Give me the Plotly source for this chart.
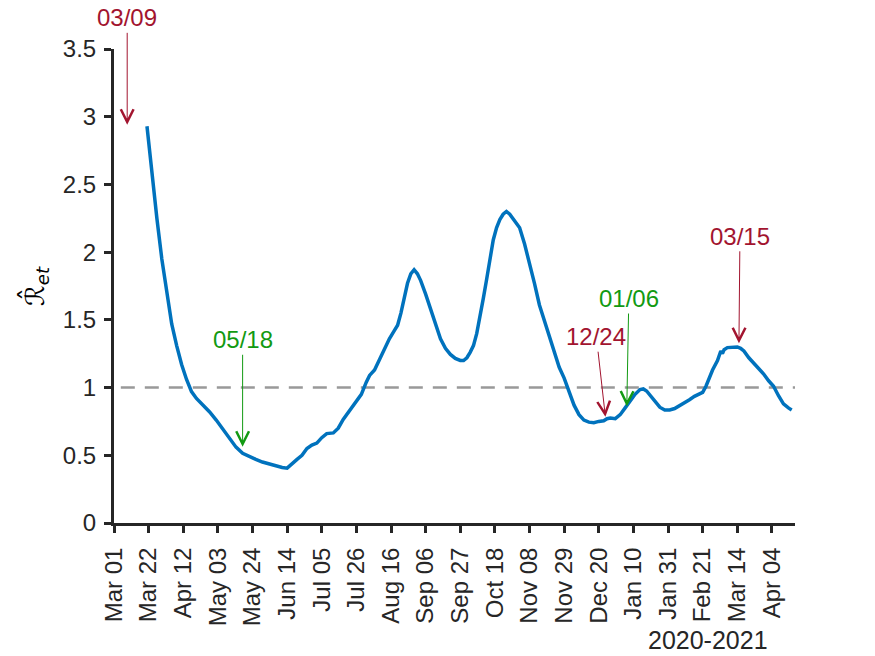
import plotly.graph_objects as go
import pandas as pd

# ---- data ----
start_date = "2020-03-01"
day_offsets = [20, 23, 26, 29, 32, 35, 38, 41, 44, 47, 50, 54, 58, 62, 66, 70, 74, 78, 82, 86,
               90, 94, 98, 102, 105, 108, 111, 114, 117, 120, 123, 126, 129, 133, 136, 139, 143,
               147, 150, 153, 155, 158, 161, 164, 167, 170, 172, 174, 176, 178, 180, 182, 184,
               186, 189, 192, 195, 198, 201, 204, 207, 210, 212, 214, 216, 218, 220, 222, 224,
               226, 228, 230, 232, 234, 236, 238, 240, 242, 244, 246, 249, 252, 255, 258, 261,
               264, 267, 270, 273, 276, 279, 282, 285, 288, 291, 294, 297, 299, 301, 304, 307,
               310, 313, 316, 319, 321, 323, 325, 328, 331, 334, 337, 340, 343, 346, 349, 352,
               355, 357, 359, 361, 363, 366, 368, 369, 370, 372, 375, 378, 380, 382, 385, 388,
               391, 394, 397, 400, 403, 406, 409, 411]
r_values = [2.93, 2.56, 2.25, 1.95, 1.70, 1.47, 1.31, 1.17, 1.06, 0.97, 0.92, 0.87, 0.82, 0.76,
            0.69, 0.62, 0.56, 0.515, 0.49, 0.47, 0.45, 0.435, 0.42, 0.41, 0.405, 0.44, 0.47,
            0.50, 0.55, 0.575, 0.59, 0.63, 0.66, 0.665, 0.70, 0.765, 0.83, 0.90, 0.95, 1.04,
            1.09, 1.13, 1.21, 1.29, 1.36, 1.42, 1.46, 1.55, 1.66, 1.77, 1.84, 1.87, 1.84, 1.79,
            1.69, 1.58, 1.46, 1.36, 1.29, 1.245, 1.215, 1.20, 1.20, 1.22, 1.26, 1.31, 1.40,
            1.52, 1.66, 1.80, 1.96, 2.09, 2.18, 2.24, 2.28, 2.30, 2.28, 2.25, 2.21, 2.18, 2.06,
            1.92, 1.77, 1.61, 1.50, 1.37, 1.27, 1.15, 1.07, 0.97, 0.87, 0.80, 0.76, 0.745, 0.74,
            0.75, 0.755, 0.77, 0.775, 0.77, 0.80, 0.85, 0.90, 0.95, 0.985, 0.99, 0.975, 0.945,
            0.89, 0.855, 0.835, 0.835, 0.845, 0.865, 0.89, 0.91, 0.935, 0.955, 0.965, 1.01,
            1.07, 1.13, 1.20, 1.27, 1.25, 1.28, 1.295, 1.30, 1.30, 1.29, 1.27, 1.22, 1.18,
            1.14, 1.10, 1.05, 1.01, 0.94, 0.88, 0.85, 0.835]

tick_dates = ["2020-03-01", "2020-03-22", "2020-04-12", "2020-05-03", "2020-05-24",
              "2020-06-14", "2020-07-05", "2020-07-26", "2020-08-16", "2020-09-06",
              "2020-09-27", "2020-10-18", "2020-11-08", "2020-11-29", "2020-12-20",
              "2021-01-10", "2021-01-31", "2021-02-21", "2021-03-14", "2021-04-04"]
tick_labels = ["Mar 01", "Mar 22", "Apr 12", "May 03", "May 24", "Jun 14", "Jul 05",
               "Jul 26", "Aug 16", "Sep 06", "Sep 27", "Oct 18", "Nov 08", "Nov 29",
               "Dec 20", "Jan 10", "Jan 31", "Feb 21", "Mar 14", "Apr 04"]
y_ticks = [0, 0.5, 1, 1.5, 2, 2.5, 3, 3.5]
y_labels = ["0", "0.5", "1", "1.5", "2", "2.5", "3", "3.5"]

event_labels = ["03/09", "05/18", "12/24", "01/06", "03/15"]
event_dates = ["2020-03-09", "2020-05-18", "2020-12-24", "2021-01-06", "2021-03-15"]
event_tip_values = [2.94, 0.563, 0.785, 0.86, 1.327]
event_colors = ["#A2142F", "#129A12", "#A2142F", "#129A12", "#A2142F"]
event_text_dx = [0, 0, -9, 2, 1]
event_text_dy = [-107, -107, -80, -108, -107]

threshold = 1.0
x_range = ["2020-03-01", "2021-04-18"]

dates = (pd.Timestamp(start_date) + pd.to_timedelta(day_offsets, unit="D")).strftime("%Y-%m-%d").tolist()

FONT = "Liberation Sans, Arial, Helvetica, sans-serif"
DARK = "#262626"
FS = 24

fig = go.Figure()
fig.add_trace(go.Scatter(x=dates, y=r_values, mode="lines",
                         line=dict(color="#0072BD", width=3.5), showlegend=False))

fig.add_shape(type="line", xref="x domain", yref="y", x0=0.01, x1=1, y0=threshold, y1=threshold,
              line=dict(color="#999999", width=2.5, dash="14px,10px"), layer="below")

for lab, d, v, c, dx, dy in zip(event_labels, event_dates, event_tip_values, event_colors,
                                event_text_dx, event_text_dy):
    fig.add_annotation(x=d, y=v, text=lab, showarrow=True, arrowhead=5, arrowsize=2.5,
                       arrowwidth=1, arrowcolor=c, ax=dx, ay=dy,
                       font=dict(family=FONT, size=FS, color=c))

fig.add_annotation(xref="paper", yref="paper", x=0.872, y=-0.247, text="2020-2021",
                   showarrow=False, xanchor="center", yanchor="middle",
                   font=dict(family=FONT, size=25, color=DARK))

fig.add_annotation(xref="paper", yref="paper", x=-0.116, y=0.5, textangle=-90,
                   text="ℛ̂<sub><i>et</i></sub>", showarrow=False,
                   xanchor="center", yanchor="middle",
                   font=dict(family="DejaVu Sans, sans-serif", size=26, color="black"))

fig.update_layout(
    width=875, height=656,
    margin=dict(l=106, r=88, t=41, b=141),
    paper_bgcolor="white", plot_bgcolor="white",
    xaxis=dict(type="date", range=x_range, tickvals=tick_dates, ticktext=tick_labels,
               tickangle=-90, ticks="outside", ticklen=7, tickwidth=2.5, tickcolor=DARK,
               ticklabelstandoff=5,
               showline=True, linewidth=3, linecolor=DARK, showgrid=False, zeroline=False,
               tickfont=dict(family=FONT, size=FS, color=DARK)),
    yaxis=dict(range=[0, 3.5], tickvals=y_ticks, ticktext=y_labels,
               ticks="outside", ticklen=7, tickwidth=2.5, tickcolor=DARK,
               ticklabelstandoff=3,
               showline=True, linewidth=3, linecolor=DARK, showgrid=False, zeroline=False,
               tickfont=dict(family=FONT, size=FS, color=DARK)),
)

fig.write_html("out.html")
